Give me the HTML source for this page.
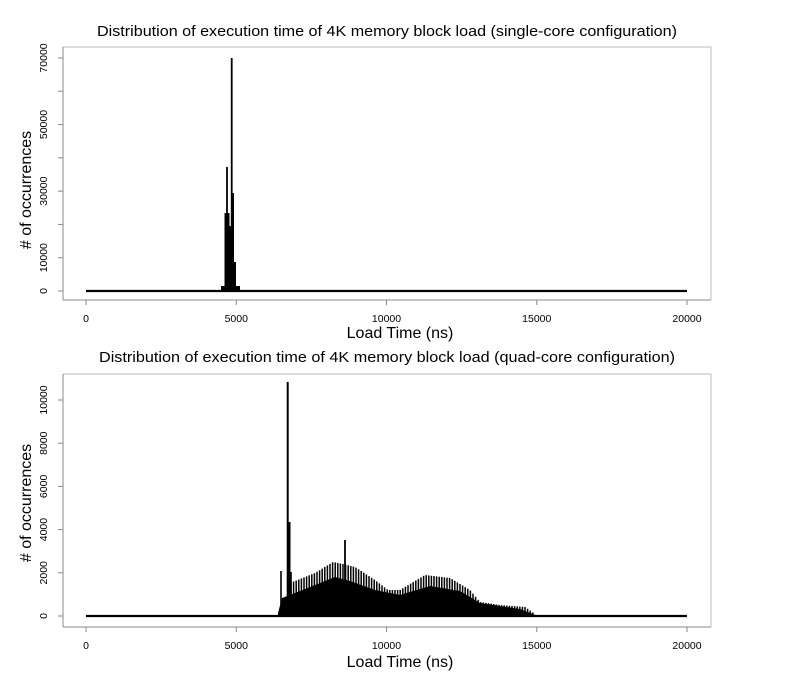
<!DOCTYPE html>
<html><head><meta charset="utf-8"><style>body{margin:0;background:#fff}svg{display:block}text{font-family:"Liberation Sans",sans-serif;fill:#000}</style></head><body>
<svg id="s" width="800" height="676" viewBox="0 0 800 676" xmlns="http://www.w3.org/2000/svg">
<text x="387" y="36" font-size="15" text-anchor="middle" textLength="580" lengthAdjust="spacingAndGlyphs">Distribution of execution time of 4K memory block load (single-core configuration)</text>
<text x="387" y="362" font-size="15" text-anchor="middle" textLength="576" lengthAdjust="spacingAndGlyphs">Distribution of execution time of 4K memory block load (quad-core configuration)</text>
<text x="400" y="338" font-size="16" text-anchor="middle">Load Time (ns)</text>
<text x="400" y="667" font-size="16" text-anchor="middle">Load Time (ns)</text>
<text transform="translate(31,190) rotate(-90)" font-size="16" text-anchor="middle"># of occurrences</text>
<text transform="translate(31,503) rotate(-90)" font-size="16" text-anchor="middle"># of occurrences</text>
<g id="g"></g>
</svg>
<script>
var g=document.getElementById('g'),h='';
function L(x1,y1,x2,y2,c,w){h+='<line x1="'+x1+'" y1="'+y1+'" x2="'+x2+'" y2="'+y2+'" stroke="'+c+'" stroke-width="'+w+'"/>';}
function T(x,y,s,rot){h+=rot?'<text transform="translate('+x+','+y+') rotate(-90)" font-size="10.5" fill="#222" text-anchor="middle">'+s+'</text>':'<text x="'+x+'" y="'+y+'" font-size="10.5" fill="#222" text-anchor="middle">'+s+'</text>';}
[[47,300],[374,627]].forEach(function(p){L(63,p[0],711,p[0],'#bbb',1);L(711,p[0],711,p[1],'#bbb',1);L(63,p[0],63,p[1],'#888',1);L(63,p[1],711,p[1],'#888',1);});
[0,5000,10000,15000,20000].forEach(function(v){var x=86+v*0.03005;L(x,300,x,305,'#888',1);T(x,322,v);L(x,627,x,632,'#888',1);T(x,649,v);});
for(var v=0;v<=70000;v+=10000){var y=291-v*0.003329;L(58,y,63,y,'#888',1);if(v==0||v%20000==10000)T(47,y,v,1);}
for(var v=0;v<=10000;v+=2000){var y=616-v*0.0216;L(58,y,63,y,'#888',1);T(47,y,v,1);}
L(86,291,687,291,'#000',2.2);L(86,616,687,616,'#000',2.2);
h+='<rect x="221" y="286" width="19" height="5" fill="#000"/>';
h+='<rect x="224.5" y="213" width="5" height="78" fill="#000"/>';
h+='<rect x="229" y="226" width="2" height="65" fill="#000"/>';
h+='<rect x="231" y="193" width="3" height="98" fill="#000"/>';
h+='<rect x="233.5" y="262" width="2.5" height="29" fill="#000"/>';
L(227,291,227,167,'#000',1.8);L(231.7,291,231.7,58,'#000',1.8);L(233,291,233,193,'#000',1.8);
function lerp(pts,x){for(var i=0;i<pts.length-1;i++){if(x>=pts[i][0]&&x<=pts[i+1][0]){var t=(x-pts[i][0])/(pts[i+1][0]-pts[i][0]);return pts[i][1]+t*(pts[i+1][1]-pts[i][1]);}}return 0;}
var teeth=[[290,33],[315,43],[333,54],[343,52],[355,49],[375,36],[388,26],[400,26],[425,41],[450,38],[470,26],[480,14],[500,11],[525,9],[538,0]];
var solid=[[278,3],[282,18],[295,23],[335,39],[350,35],[375,26],[400,21],[430,30],[460,25],[480,13],[520,7],[538,0],[545,0]];
var d='M278,616';for(var x=278;x<=545;x+=1){d+=' L'+x+','+(616-lerp(solid,x));}d+=' L545,616 Z';h+='<path d="'+d+'" fill="#000"/>';
for(var x=291;x<=535;x+=2.6){var t=lerp(teeth,x);L(x,616,x,616-t,'#000',1.5);}
L(281,616,281,571,'#000',1.6);L(284,616,284,598,'#000',1.6);L(287.7,616,287.7,382,'#000',2);L(289.5,616,289.5,522,'#000',2);L(291,616,291,572,'#000',1.6);L(345,616,345,540,'#000',1.8);
g.innerHTML=h;
</script>
</body></html>
